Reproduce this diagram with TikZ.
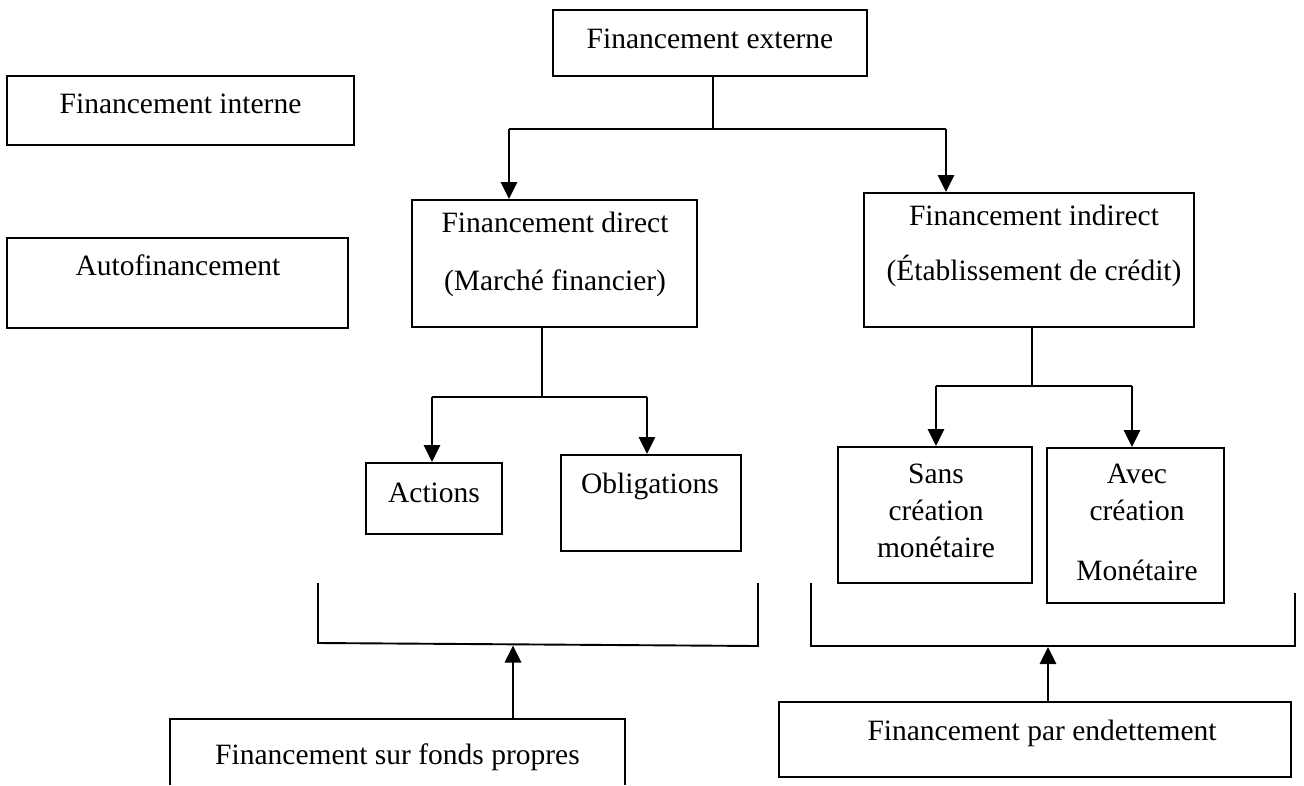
\documentclass[tikz,border=0pt]{standalone}
\usepackage{fontspec}
\setmainfont{Liberation Serif}
\usetikzlibrary{arrows.meta}
\tikzset{
  box/.style={draw, line width=2pt, inner sep=0pt},
  openbox/.style={draw=none, inner sep=0pt},
  txt/.style={anchor=base, inner sep=0pt, font=\fontsize{29.5}{35}\selectfont},
  link/.style={line width=1.9pt},
  arr/.style={line width=2.9pt, -{Triangle[length=17pt,width=16pt]}},
}
\begin{document}
\begin{tikzpicture}[x=1pt,y=-1pt]
\useasboundingbox (0,0) rectangle (1304,785);
% boxes
\node[box, minimum width=314, minimum height=66] (ext) at (710,43) {};
\node[box, minimum width=347, minimum height=69] (int) at (180.5,110.5) {};
\node[box, minimum width=341, minimum height=90] (auto) at (177.5,283) {};
\node[box, minimum width=285, minimum height=127] (dir) at (554.5,263.5) {};
\node[box, minimum width=330, minimum height=134] (ind) at (1029,260) {};
\node[box, minimum width=136, minimum height=71] (act) at (434,498.5) {};
\node[box, minimum width=180, minimum height=96] (obl) at (651,503) {};
\node[box, minimum width=194, minimum height=136] (sans) at (935,515) {};
\node[box, minimum width=177, minimum height=155] (avec) at (1135.5,525.5) {};
\node[openbox, minimum width=455, minimum height=66] (fp) at (397.5,752) {};
\draw[line width=2pt] (fp.south west) -- (fp.north west) -- (fp.north east) -- (fp.south east);
\node[box, minimum width=512, minimum height=75] (pe) at (1035,739.5) {};
% texts
\node[txt] (tExt) at (710,48) {Financement externe};
\node[txt] (tInt) at (180.5,113) {Financement interne};
\node[txt] (tAuto) at (178,275) {Autofinancement};
\node[txt] (tDir1) at (555,232) {Financement direct};
\node[txt] (tDir2) at (555,290) {(Marché financier)};
\node[txt] (tInd1) at (1034,225) {Financement indirect};
\node[txt] (tInd2) at (1034,280) {(Établissement de crédit)};
\node[txt] (tAct) at (434,502) {Actions};
\node[txt] (tObl) at (650,493) {Obligations};
\node[txt] (tSans1) at (936,483) {Sans};
\node[txt] (tSans2) at (936,520) {création};
\node[txt] (tSans3) at (936,557) {monétaire};
\node[txt] (tAvec1) at (1137,483) {Avec};
\node[txt] (tAvec2) at (1137,520) {création};
\node[txt] (tAvec3) at (1137,580) {Monétaire};
\node[txt] (tFp) at (397.5,764) {Financement sur fonds propres};
\node[txt] (tPe) at (1042,740) {Financement par endettement};
% tree from Financement externe
\coordinate (j0) at (713,129);
\coordinate (j1) at (509,129);
\coordinate (j2) at (946,129);
\draw[link] (j0 |- ext.south) -- (j0);
\draw[link] (j1) -- (j2);
\draw[arr] (j1) -- (j1 |- dir.north);
\draw[arr] (j2) -- (j2 |- ind.north);
% tree from direct
\coordinate (k0) at (542,397);
\coordinate (k1) at (432,397);
\coordinate (k2) at (647,397);
\draw[link] (k0 |- dir.south) -- (k0);
\draw[link] (k1) -- (k2);
\draw[arr] (k1) -- (k1 |- act.north);
\draw[arr] (k2) -- (k2 |- obl.north);
% tree from indirect
\coordinate (m0) at (1032,386);
\coordinate (m1) at (936,386);
\coordinate (m2) at (1132,386);
\draw[link] (m0 |- ind.south) -- (m0);
\draw[link] (m1) -- (m2);
\draw[arr] (m1) -- (m1 |- sans.north);
\draw[arr] (m2) -- (m2 |- avec.north);
% brackets
\coordinate (b1) at (318,583);
\coordinate (b2) at (318,643);
\coordinate (b3) at (758,646);
\coordinate (b4) at (758,583);
\draw[link] (b1) -- (b2) -- (b3) -- (b4);
\coordinate (c1) at (811,583);
\coordinate (c2) at (811,646);
\coordinate (c3) at (1295,646);
\coordinate (c4) at (1295,593);
\draw[link] (c1) -- (c2) -- (c3) -- (c4);
% up arrows
\coordinate (u1) at (513,645.5);
\coordinate (u2) at (1048,647);
\draw[arr] (u1 |- fp.north) -- (u1);
\draw[arr] (u2 |- pe.north) -- (u2);
\end{tikzpicture}
\end{document}
